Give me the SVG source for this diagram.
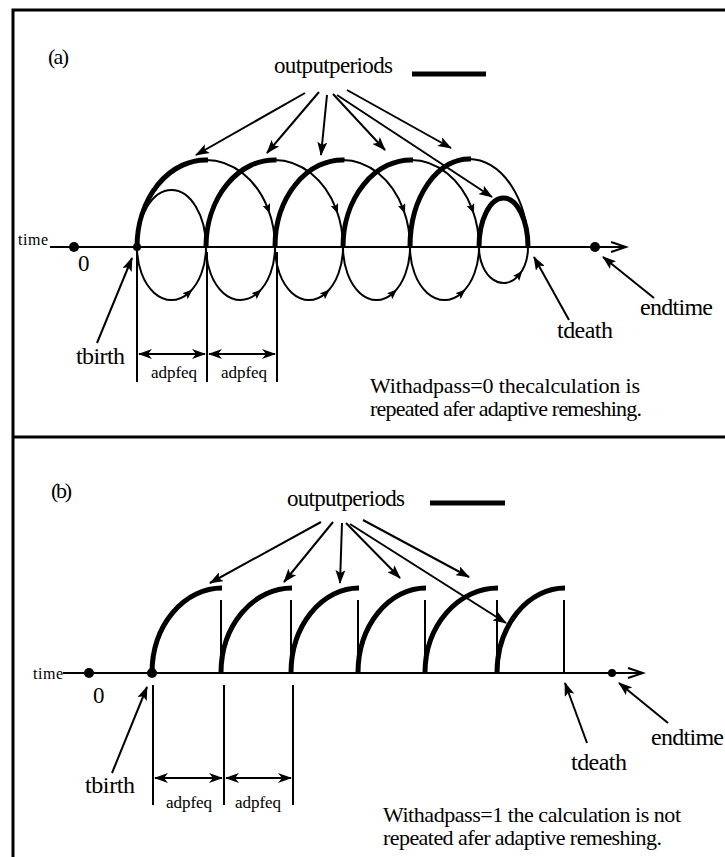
<svg xmlns="http://www.w3.org/2000/svg" width="725" height="857" viewBox="0 0 725 857">
<style>
text{font-family:"Liberation Serif","Times New Roman",serif;fill:#000}
.ln{stroke:#000;stroke-width:2;fill:none}
.tk{stroke:#000;stroke-width:5;fill:none}
.fr{stroke:#000;stroke-width:3;fill:none}
.ar{stroke:#000;stroke-width:2;fill:none;marker-end:url(#ah)}
.la{stroke:#000;stroke-width:2;fill:none;marker-end:url(#sh)}
.da{stroke:#000;stroke-width:2;fill:none;marker-start:url(#dh);marker-end:url(#dh)}
.ax{stroke:#000;stroke-width:2;fill:none;marker-end:url(#ov)}
.lab{font-size:24px}
.sm{font-size:17px}
.body{font-size:22px}
</style>
<defs>
<marker id="ah" markerUnits="userSpaceOnUse" viewBox="0 0 14 10" markerWidth="14" markerHeight="10" refX="13" refY="5" orient="auto"><path d="M0,0 L14,5 L0,10 L3,5 z" fill="#000"/></marker>
<marker id="sh" markerUnits="userSpaceOnUse" viewBox="0 0 10 8" markerWidth="10" markerHeight="8" refX="5" refY="4" orient="auto"><path d="M0,0 L10,4 L0,8 L2,4 z" fill="#000"/></marker>
<marker id="dh" markerUnits="userSpaceOnUse" viewBox="0 0 14 10" markerWidth="14" markerHeight="10" refX="13" refY="5" orient="auto-start-reverse"><path d="M0,0 L14,5 L0,10 L4,5 z" fill="#000"/></marker>
<marker id="ov" markerUnits="userSpaceOnUse" viewBox="-2 -2 20 14" markerWidth="20" markerHeight="14" refX="15" refY="5" orient="auto"><path d="M0,0 L15,5 L0,10" fill="none" stroke="#000" stroke-width="2"/></marker>
</defs>

<g id="frame">
<path class="fr" d="M13,857 L13,10 L725,10"/>
<path class="fr" d="M13,437 L725,437"/>
</g>

<!-- Panel (a) -->
<g id="a-labels">
<text x="48" y="64" font-size="22" textLength="21">(a)</text>
<text x="274" y="73" font-size="23" textLength="119">outputperiods</text>
<line x1="412" y1="74" x2="486" y2="74" stroke="#000" stroke-width="5"/>
<text x="18" y="245" font-size="16" textLength="30">time</text>
<text x="78" y="271" font-size="23">0</text>
<text class="lab" x="76" y="364" textLength="49">tbirth</text>
<text class="lab" x="557" y="338" textLength="56">tdeath</text>
<text class="lab" x="640" y="315" textLength="73">endtime</text>
<text class="sm" x="151" y="378" textLength="46">adpfeq</text>
<text class="sm" x="221" y="378" textLength="46">adpfeq</text>
<text class="body" x="370" y="393" textLength="270">Withadpass=0 thecalculation is</text>
<text class="body" x="370" y="416" textLength="272">repeated afer adaptive remeshing.</text>
</g>

<g id="a-axis">
<line class="ax" x1="50" y1="247" x2="626" y2="247"/>
<circle cx="74" cy="247" r="5"/>
<circle cx="137" cy="247" r="4"/>
<circle cx="595" cy="247" r="5"/>
</g>

<g id="a-loops">
<path class="ln" d="M137,247 A34.5,57 0 0 1 206,247"/>
<path class="la" d="M206,160 A69,87 0 0 1 268.1,209.1"/>
<path class="ln" d="M268.1,209.1 A69,87 0 0 1 275,247"/>
<path class="la" d="M274.5,160 A68.5,87 0 0 1 336.15,209.1"/>
<path class="ln" d="M336.15,209.1 A68.5,87 0 0 1 343,247"/>
<path class="la" d="M342.5,160 A67.5,87 0 0 1 403.25,209.1"/>
<path class="ln" d="M403.25,209.1 A67.5,87 0 0 1 410,247"/>
<path class="la" d="M411,160 A68,87 0 0 1 472.2,209.1"/>
<path class="ln" d="M472.2,209.1 A68,87 0 0 1 479,247"/>
<path class="ln" d="M469,159 A59,88 0 0 1 528,247"/>
<path class="tk" d="M137,247 A69,87 0 0 1 208,160"/>
<path class="tk" d="M206,247 A68.5,87 0 0 1 276.5,160"/>
<path class="tk" d="M275,247 A67.5,87 0 0 1 344.5,160"/>
<path class="tk" d="M343,247 A68,87 0 0 1 413,160"/>
<path class="tk" d="M410,247 A59,88 0 0 1 471,159"/>
<path class="tk" d="M479,247 A24.5,49 0 0 1 528,247"/>
<path class="la" d="M137,247 A34.5,53 0 0 0 188.75,292.9"/>
<path class="ln" d="M188.75,292.9 A34.5,53 0 0 0 206,247"/>
<path class="la" d="M206,247 A34.5,53 0 0 0 257.75,292.9"/>
<path class="ln" d="M257.75,292.9 A34.5,53 0 0 0 275,247"/>
<path class="la" d="M275,247 A34,53 0 0 0 326,292.9"/>
<path class="ln" d="M326,292.9 A34,53 0 0 0 343,247"/>
<path class="la" d="M343,247 A33.5,53 0 0 0 393.25,292.9"/>
<path class="ln" d="M393.25,292.9 A33.5,53 0 0 0 410,247"/>
<path class="la" d="M410,247 A34.5,53 0 0 0 461.75,292.9"/>
<path class="ln" d="M461.75,292.9 A34.5,53 0 0 0 479,247"/>
<path class="la" d="M479,247 A24.5,36 0 0 0 519.25,274.6"/>
<path class="ln" d="M519.25,274.6 A24.5,36 0 0 0 528,247"/>
</g>

<g id="a-connectors">
<line class="ar" x1="305" y1="93" x2="196" y2="155"/>
<line class="ar" x1="319" y1="92" x2="267" y2="153"/>
<line class="ar" x1="327" y1="95" x2="321" y2="155"/>
<line class="ar" x1="333" y1="94" x2="385" y2="150"/>
<line class="ar" x1="347" y1="90" x2="451" y2="148"/>
<line class="ar" x1="337" y1="95" x2="492" y2="197"/>
<line class="ar" x1="97" y1="343" x2="132" y2="258"/>
<line class="ar" x1="569" y1="320" x2="534" y2="257"/>
<line class="ar" x1="654" y1="298" x2="603" y2="257"/>
<line class="ln" x1="137" y1="250" x2="137" y2="382"/>
<line class="ln" x1="207" y1="252" x2="207" y2="382"/>
<line class="ln" x1="277" y1="252" x2="277" y2="382"/>
<line class="da" x1="139" y1="354" x2="205" y2="354"/>
<line class="da" x1="209" y1="354" x2="275" y2="354"/>
</g>

<!-- Panel (b) -->
<g id="b-labels">
<text x="51" y="498" font-size="22" textLength="21">(b)</text>
<text x="287" y="506" font-size="23" textLength="118">outputperiods</text>
<line x1="430" y1="503" x2="505" y2="503" stroke="#000" stroke-width="5"/>
<text x="33" y="679" font-size="16" textLength="30">time</text>
<text x="93" y="703" font-size="23">0</text>
<text class="lab" x="85" y="793" textLength="50">tbirth</text>
<text class="lab" x="571" y="770" textLength="56">tdeath</text>
<text class="lab" x="651" y="745" textLength="73">endtime</text>
<text class="sm" x="166" y="808" textLength="46">adpfeq</text>
<text class="sm" x="235" y="808" textLength="46">adpfeq</text>
<text class="body" x="383" y="822" textLength="298">Withadpass=1 the calculation is not</text>
<text class="body" x="383" y="845" textLength="279">repeated afer adaptive remeshing.</text>
</g>

<g id="b-axis">
<line class="ax" x1="63" y1="673" x2="643" y2="673"/>
<circle cx="89" cy="673" r="5"/>
<circle cx="152" cy="673" r="5"/>
<circle cx="612" cy="673" r="4"/>
</g>

<g id="b-arcs">
<path class="tk" d="M152,673 A70,85 0 0 1 222,588"/>
<path class="tk" d="M221,673 A71,85 0 0 1 292,588"/>
<path class="tk" d="M291,673 A68,85 0 0 1 359,588"/>
<path class="tk" d="M358,673 A68,85 0 0 1 426,588"/>
<path class="tk" d="M425,673 A73,85 0 0 1 498,588"/>
<path class="tk" d="M497,673 A68,85 0 0 1 565,588"/>
<line class="ln" x1="221" y1="600" x2="221" y2="673"/>
<line class="ln" x1="291" y1="600" x2="291" y2="673"/>
<line class="ln" x1="358" y1="600" x2="358" y2="673"/>
<line class="ln" x1="425" y1="600" x2="425" y2="673"/>
<line class="ln" x1="497" y1="600" x2="497" y2="673"/>
<line class="ln" x1="564" y1="600" x2="564" y2="673"/>
</g>

<g id="b-connectors">
<line class="ar" x1="321" y1="522" x2="210" y2="583"/>
<line class="ar" x1="333" y1="522" x2="284" y2="582"/>
<line class="ar" x1="342" y1="523" x2="340" y2="583"/>
<line class="ar" x1="346" y1="523" x2="400" y2="578"/>
<line class="ar" x1="363" y1="520" x2="469" y2="577"/>
<line class="ar" x1="350" y1="524" x2="506" y2="623"/>
<line class="ar" x1="112" y1="773" x2="147" y2="687"/>
<line class="ar" x1="587" y1="743" x2="565" y2="683"/>
<line class="ar" x1="668" y1="723" x2="619" y2="683"/>
<line class="ln" x1="153" y1="685" x2="153" y2="805"/>
<line class="ln" x1="224" y1="685" x2="224" y2="805"/>
<line class="ln" x1="293" y1="685" x2="293" y2="805"/>
<line class="da" x1="155" y1="778" x2="222" y2="778"/>
<line class="da" x1="226" y1="778" x2="291" y2="778"/>
</g>
</svg>
